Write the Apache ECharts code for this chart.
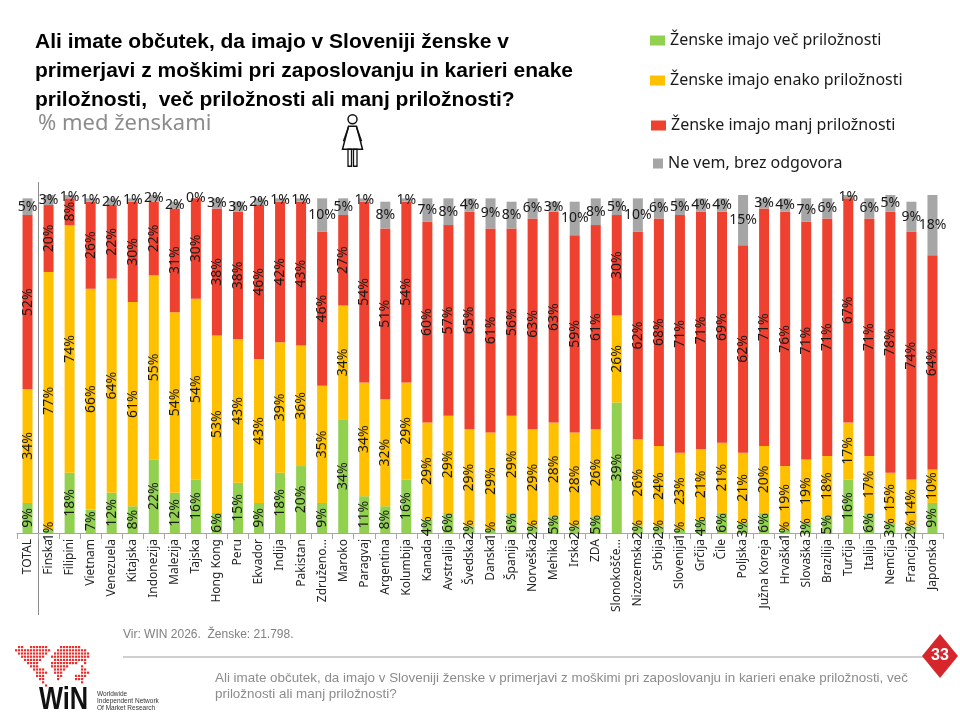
<!DOCTYPE html>
<html>
<head>
<meta charset="utf-8">
<script src="https://cdn.jsdelivr.net/npm/echarts@6/dist/echarts.min.js"></script>
<style>
  html, body { margin: 0; padding: 0; background: #fff; }
  #main { width: 960px; height: 720px; }
</style>
</head>
<body>
<div id="main"></div>
<script>
// podatki (odstotki, ženske)
var categories = ['TOTAL', 'Finska', 'Filipini', 'Vietnam', 'Venezuela', 'Kitajska', 'Indonezija', 'Malezija', 'Tajska', 'Hong Kong',
    'Peru', 'Ekvador', 'Indija', 'Pakistan', 'Združeno…', 'Maroko', 'Paragvaj', 'Argentina', 'Kolumbija', 'Kanada',
    'Avstralija', 'Švedska', 'Danska', 'Španija', 'Norveška', 'Mehika', 'Irska', 'ZDA', 'Slonokošče…', 'Nizozemska',
    'Srbija', 'Slovenija', 'Grčija', 'Čile', 'Poljska', 'Južna Koreja', 'Hrvaška', 'Slovaška', 'Brazilija', 'Turčija',
    'Italija', 'Nemčija', 'Francija', 'Japonska'];

var vecData = [9, 1, 18, 7, 12, 8, 22, 12, 16, 6, 15, 9, 18, 20, 9, 34, 11, 8, 16, 4, 6, 2, 1, 6, 2, 5, 2, 5, 39, 2, 2, 1, 4, 6, 3, 6, 1, 3, 5, 16, 6, 3, 2, 9];
var enakoData = [34, 77, 74, 66, 64, 61, 55, 54, 54, 53, 43, 43, 39, 36, 35, 34, 34, 32, 29, 29, 29, 29, 29, 29, 29, 28, 28, 26, 26, 26, 24, 23, 21, 21, 21, 20, 19, 19, 18, 17, 17, 15, 14, 10];
var manjData = [52, 20, 8, 26, 22, 30, 22, 31, 30, 38, 38, 46, 42, 43, 46, 27, 54, 51, 54, 60, 57, 65, 61, 56, 63, 63, 59, 61, 30, 62, 68, 71, 71, 69, 62, 71, 76, 71, 71, 67, 71, 78, 74, 64];
var neVemData = [5, 3, 1, 1, 2, 1, 2, 2, 0, 3, 3, 2, 1, 1, 10, 5, 1, 8, 1, 7, 8, 4, 9, 8, 6, 3, 10, 8, 5, 10, 6, 5, 4, 4, 15, 3, 4, 7, 6, 1, 6, 5, 9, 18];

var seriesNames = ['Ženske imajo več priložnosti', 'Ženske imajo enako priložnosti', 'Ženske imajo manj priložnosti', 'Ne vem, brez odgovora'];

var FONT = "'Noto Sans', 'Open Sans', sans-serif";
var NARROW = "'Liberation Sans Narrow', 'Liberation Sans', sans-serif";

var myChart = echarts.init(document.getElementById('main'));

// oznake v stolpcih so zasukane
function rotLabel() {
    return {
        show: true,
        position: 'inside',
        rotate: 90,
        formatter: '{c}%',
        fontFamily: FONT,
        fontSize: 14,
        color: '#1a1a1a'
    };
}

// zemljevid iz pik za logotip
var mapMask = [
    "  ##  ######    #######   ",
    " ############  ########## ",
    "  ##########  ############",
    "   ########  #############",
    "    ######    ########### ",
    "     ####    #########  # ",
    "      ###    ######    #  ",
    "       ####   ####     ## ",
    "        ####  ###      ###",
    "        ###    ##    #### ",
    "         ##    #     ###  ",
    "          #            #  ",
    "           #              "
];
var dots = [];
for (var r = 0; r < mapMask.length; r++) {
    for (var c = 0; c < mapMask[r].length; c++) {
        if (mapMask[r][c] == '#') {
            dots.push({
                type: 'rect',
                shape: { x: 12 + c * 3, y: 646 + r * 3.2, width: 2.2, height: 2.2 },
                style: { fill: '#e8312f' },
                silent: true
            });
        }
    }
}

function legendItem(name, top, left, w, h) {
    return {
        data: [name],
        orient: 'vertical',
        left: left,
        top: top,
        icon: 'rect',
        itemWidth: w,
        itemHeight: h,
        itemGap: 0,
        selectedMode: false,
        textStyle: { fontFamily: FONT, fontSize: 16, color: '#1a1a1a', lineHeight: 17 }
    };
}

var option = {
    animation: false,
    title: {
        text: 'Ali imate občutek, da imajo v Sloveniji ženske v\nprimerjavi z moškimi pri zaposlovanju in karieri enake\npriložnosti,  več priložnosti ali manj priložnosti?',
        left: 30,
        top: 23,
        textStyle: {
            fontFamily: "'Liberation Sans', Arial, sans-serif",
            fontWeight: 'bold',
            fontSize: 21,
            lineHeight: 29,
            color: '#000'
        }
    },
    legend: [
        legendItem(seriesNames[0], 27, 645, 15, 10),
        legendItem(seriesNames[1], 67, 645, 15, 10),
        legendItem(seriesNames[2], 112, 646, 15, 10),
        legendItem(seriesNames[3], 150, 648, 10, 10)
    ],
    grid: {
        left: 17,
        right: 17,
        top: 195,
        bottom: 187
    },
    xAxis: {
        type: 'category',
        data: categories,
        axisLine: { lineStyle: { color: '#a6a6a6' } },
        axisTick: { show: true, length: 6, lineStyle: { color: '#a6a6a6' } },
        axisLabel: {
            interval: 0,
            rotate: 90,
            fontFamily: FONT,
            fontSize: 12,
            color: '#262626',
            margin: 6
        }
    },
    yAxis: {
        type: 'value',
        min: 0,
        max: 101,
        show: false,
        splitLine: { show: false }
    },
    series: [
        {
            name: seriesNames[0],
            type: 'bar',
            stack: 'all',
            barWidth: 10,
            data: vecData,
            itemStyle: { color: '#92d050' },
            label: rotLabel()
        },
        {
            name: seriesNames[1],
            type: 'bar',
            stack: 'all',
            barWidth: 10,
            data: enakoData,
            itemStyle: { color: '#ffc000' },
            label: rotLabel()
        },
        {
            name: seriesNames[2],
            type: 'bar',
            stack: 'all',
            barWidth: 10,
            data: manjData,
            itemStyle: { color: '#ee4130' },
            label: rotLabel()
        },
        {
            name: seriesNames[3],
            type: 'bar',
            stack: 'all',
            barWidth: 10,
            data: neVemData,
            itemStyle: { color: '#a6a6a6' },
            label: {
                show: true,
                position: 'inside',
                formatter: '{c}%',
                fontFamily: FONT,
                fontSize: 14,
                color: '#1a1a1a'
            }
        }
    ],
    graphic: [
        {
            type: 'text',
            left: 38,
            top: 113,
            style: { text: '% med ženskami', fontFamily: FONT, fontSize: 22, fill: '#8c8c8c' }
        },
        // ikona ženske
        {
            type: 'group',
            left: 341,
            top: 114,
            children: [
                { type: 'circle', shape: { cx: 11, cy: 6, r: 4.5 }, style: { fill: '#fff', stroke: '#111', lineWidth: 1.5 } },
                { type: 'polygon', shape: { points: [[7, 13], [15, 13], [21, 36], [1, 36]] }, style: { fill: '#fff', stroke: '#111', lineWidth: 1.5 } },
                { type: 'polyline', shape: { points: [[7, 14], [2, 28]] }, style: { stroke: '#111', lineWidth: 1.5 } },
                { type: 'polyline', shape: { points: [[15, 14], [20, 28]] }, style: { stroke: '#111', lineWidth: 1.5 } },
                { type: 'rect', shape: { x: 6.5, y: 36, width: 3.5, height: 17 }, style: { fill: '#fff', stroke: '#111', lineWidth: 1.3 } },
                { type: 'rect', shape: { x: 12, y: 36, width: 3.5, height: 17 }, style: { fill: '#fff', stroke: '#111', lineWidth: 1.3 } }
            ]
        },
        {
            type: 'text',
            left: 123,
            top: 629,
            style: { text: 'Vir: WIN 2026.  Ženske: 21.798.', fontFamily: NARROW, fontSize: 12, fill: '#808080' }
        },
        {
            type: 'line',
            shape: { x1: 123, y1: 657, x2: 925, y2: 657 },
            style: { stroke: '#bfbfbf', lineWidth: 1.5 }
        },
        {
            type: 'polygon',
            shape: { points: [[940, 634], [958, 656], [940, 678], [922, 656]] },
            style: { fill: '#d7262b' }
        },
        {
            type: 'text',
            x: 940,
            y: 656,
            style: { text: '33', fontFamily: NARROW, fontWeight: 'bold', fontSize: 16, fill: '#fff', align: 'center', verticalAlign: 'middle' }
        },
        {
            type: 'text',
            left: 215,
            top: 670,
            style: {
                text: 'Ali imate občutek, da imajo v Sloveniji ženske v primerjavi z moškimi pri zaposlovanju in karieri enake priložnosti, več\npriložnosti ali manj priložnosti?',
                fontFamily: NARROW, fontSize: 13.4, lineHeight: 16, fill: '#8c8c8c'
            }
        },
        { type: 'group', children: dots },
        {
            type: 'text',
            x: 39,
            y: 685,
            scaleX: 0.82,
            style: { text: 'WiN', fontFamily: "'Liberation Sans', Arial, sans-serif", fontWeight: 'bold', fontSize: 31, fill: '#111' }
        },
        {
            type: 'text',
            left: 97,
            top: 691,
            style: { text: 'Worldwide\nIndependent Network\nOf Market Research', fontFamily: NARROW, fontSize: 6.5, lineHeight: 7, fill: '#333' }
        }
    ]
};

myChart.setOption(option);

// ločilna črta med TOTAL in državami
var x0 = myChart.convertToPixel({ xAxisIndex: 0 }, categories[0]);
var x1 = myChart.convertToPixel({ xAxisIndex: 0 }, categories[1]);
var sepX = Math.round((x0 + x1) / 2) + 0.5;
myChart.setOption({
    graphic: [{
        id: 'sep',
        type: 'line',
        shape: { x1: sepX, y1: 182, x2: sepX, y2: 615 },
        style: { stroke: '#8c8c8c', lineWidth: 1 }
    }]
});
</script>
</body>
</html>
